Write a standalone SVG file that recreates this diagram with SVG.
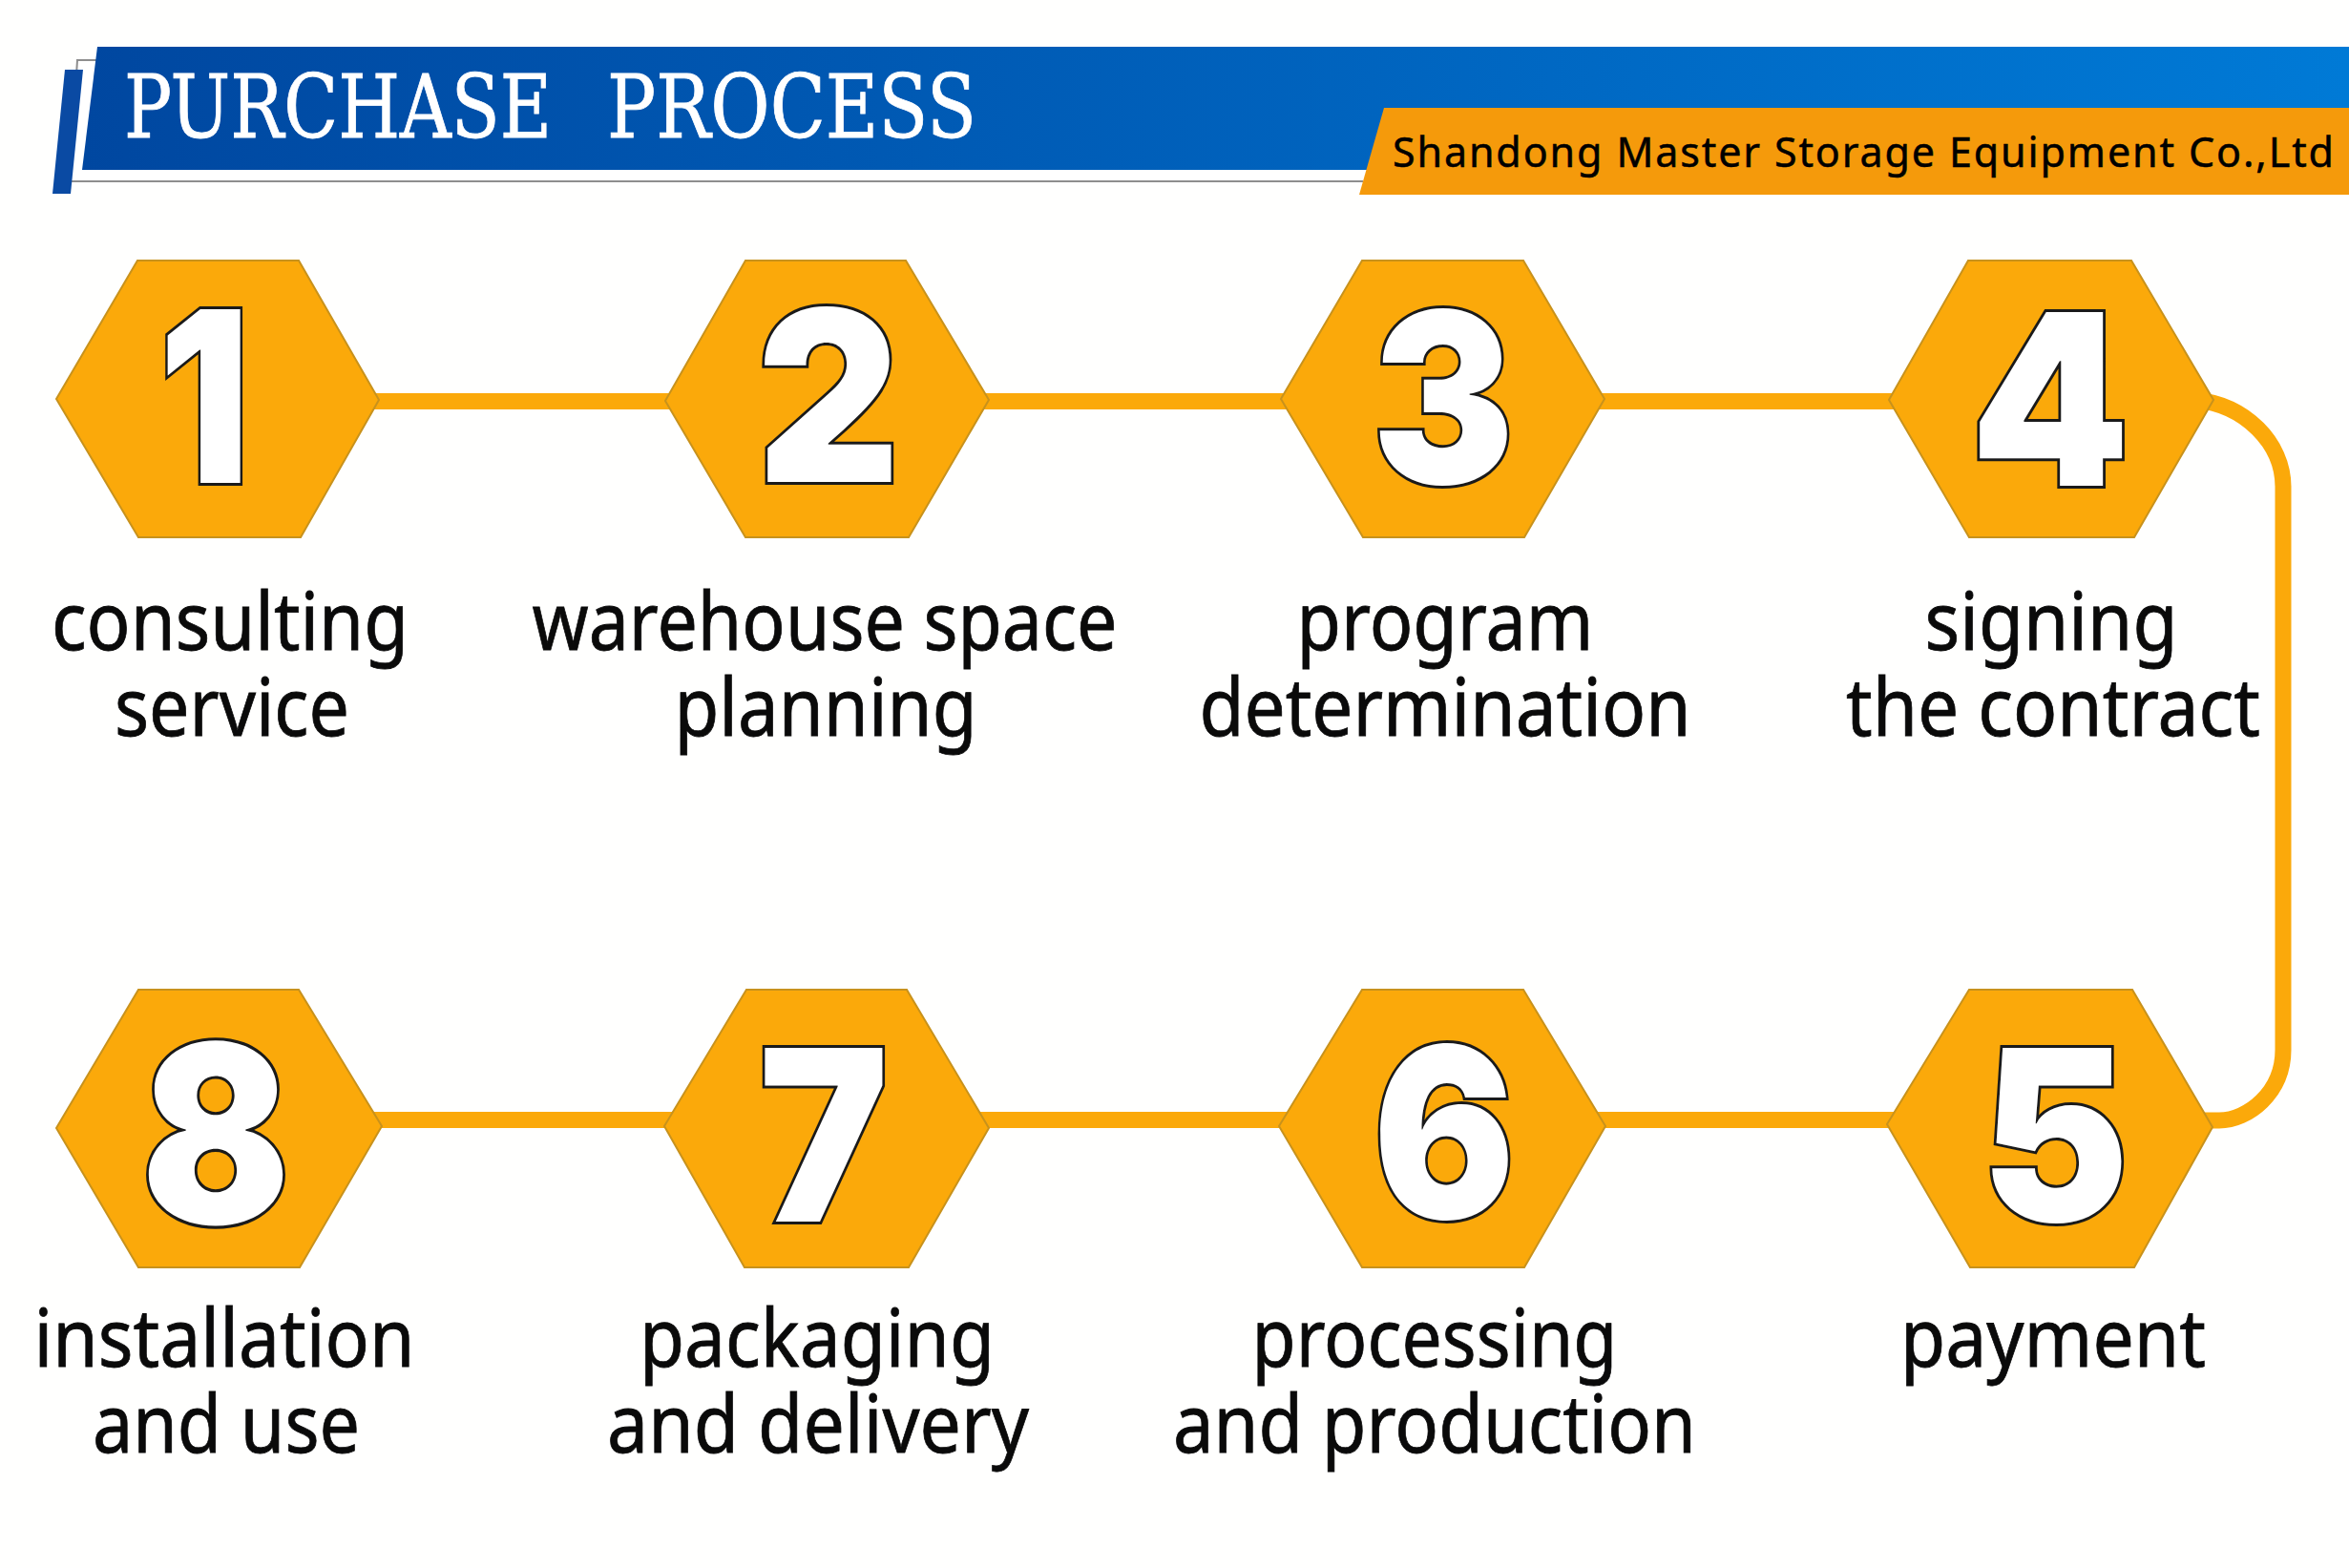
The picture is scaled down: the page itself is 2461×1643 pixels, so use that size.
<svg xmlns="http://www.w3.org/2000/svg" width="2461" height="1643" viewBox="0 0 2461 1643">
<style>
.hex{fill:#fba90a;stroke:#c8921c;stroke-width:2;stroke-linejoin:miter}
.con{fill:none;stroke:#fba90a;stroke-width:17}
.num{font-family:Inter,"Liberation Sans",sans-serif;font-weight:900;font-size:250px;fill:#fff;stroke:#1a1a1a;stroke-width:6;paint-order:stroke;text-anchor:middle}
.lab{font-family:"Noto Sans","Open Sans",sans-serif;font-size:84px;fill:#0a0a0a;stroke:#0a0a0a;stroke-width:.8;text-anchor:middle}
</style>
<defs>
<linearGradient id="g" x1="0" x2="1" y1="0" y2="0"><stop offset="0" stop-color="#0047a0"/><stop offset="1" stop-color="#007ad6"/></linearGradient>
</defs>
<rect width="2461" height="1643" fill="#fffffe"/>
<g id="header">
<path d="M102,63H81L73,190H1428" fill="#fff" stroke="#8e8e8e" stroke-width="2"/>
<polygon points="68,73 87,73 74,203 55,203" fill="#0a4aa3"/>
<polygon points="102,49 2461,49 2461,178 86,178" fill="url(#g)"/>
<polygon points="1450,113 2461,113 2461,204 1424,204" fill="#f59a0b"/>
<text y="144" font-family="'DejaVu Serif Condensed','DejaVu Serif',serif" font-size="92" fill="#fff" stroke="#fff" stroke-width=".8"><tspan x="130" textLength="448" lengthAdjust="spacingAndGlyphs">PURCHASE</tspan> <tspan x="636" textLength="387" lengthAdjust="spacingAndGlyphs">PROCESS</tspan></text>
<text x="1459" y="175" font-family="'Noto Sans',sans-serif" font-size="43" fill="#000" stroke="#000" stroke-width=".5" textLength="986" lengthAdjust="spacing">Shandong Master Storage Equipment Co.,Ltd</text>
</g>
<g id="connectors">
<path class="con" d="M390,420.5H1000M1030,420.5H1360M1660,420.5H2000"/>
<path class="con" d="M2300,419C2352,424 2392,464 2392,510V1100C2392,1145 2355,1174 2325,1174H2300"/>
<path class="con" d="M390,1173.5H720M1020,1173.5H1360M1660,1173.5H2000"/>
</g>
<g id="n1"><polygon class="hex" points="144,273 313,273 397,419 315,563 145,563 59,418"/><text class="num" transform="translate(214,506) scale(.84,1)">1</text><text class="lab" x="241" y="681" textLength="374" lengthAdjust="spacingAndGlyphs">consulting</text><text class="lab" x="243" y="771" textLength="246" lengthAdjust="spacingAndGlyphs">service</text></g>
<g id="n2"><polygon class="hex" points="781,273 949,273 1036,419 952,563 781,563 697,420"/><text class="num" transform="translate(868,505) scale(.925,1)">2</text><text class="lab" x="864" y="681" textLength="613" lengthAdjust="spacingAndGlyphs">warehouse space</text><text class="lab" x="865" y="771" textLength="317" lengthAdjust="spacingAndGlyphs">planning</text></g>
<g id="n3"><polygon class="hex" points="1427,273 1596,273 1681,418 1597,563 1428,563 1342,418"/><text class="num" transform="translate(1512,507) scale(.89,1)">3</text><text class="lab" x="1514" y="681" textLength="311" lengthAdjust="spacingAndGlyphs">program</text><text class="lab" x="1514" y="771" textLength="515" lengthAdjust="spacingAndGlyphs">determination</text></g>
<g id="n4"><polygon class="hex" points="2062,273 2233,273 2319,419 2236,563 2063,563 1979,419"/><text class="num" transform="translate(2148,509) scale(.95,1)">4</text><text class="lab" x="2149" y="681" textLength="265" lengthAdjust="spacingAndGlyphs">signing</text><text class="lab" x="2151" y="771" textLength="434" lengthAdjust="spacingAndGlyphs">the contract</text></g>
<g id="n5"><polygon class="hex" points="2063,1037 2234,1037 2318,1181 2236,1328 2064,1328 1977,1178"/><text class="num" transform="translate(2153,1280) scale(.93,1)">5</text><text class="lab" x="2151" y="1432" textLength="320" lengthAdjust="spacingAndGlyphs">payment</text></g>
<g id="n6"><polygon class="hex" points="1427,1037 1596,1037 1682,1180 1597,1328 1427,1328 1340,1180"/><text class="num" transform="translate(1513,1277) scale(.88,1)">6</text><text class="lab" x="1503" y="1432" textLength="383" lengthAdjust="spacingAndGlyphs">processing</text><text class="lab" x="1503" y="1522" textLength="548" lengthAdjust="spacingAndGlyphs">and production</text></g>
<g id="n7"><polygon class="hex" points="782,1037 950,1037 1036,1182 952,1328 780,1328 696,1180"/><text class="num" transform="translate(863,1280) scale(.91,1)">7</text><text class="lab" x="856" y="1432" textLength="372" lengthAdjust="spacingAndGlyphs">packaging</text><text class="lab" x="857" y="1522" textLength="442" lengthAdjust="spacingAndGlyphs">and delivery</text></g>
<g id="n8"><polygon class="hex" points="145,1037 313,1037 400,1180 314,1328 145,1328 59,1182"/><text class="num" transform="translate(226,1282) scale(.92,1.04)">8</text><text class="lab" x="235" y="1432" textLength="399" lengthAdjust="spacingAndGlyphs">installation</text><text class="lab" x="237" y="1522" textLength="280" lengthAdjust="spacingAndGlyphs">and use</text></g>
</svg>
